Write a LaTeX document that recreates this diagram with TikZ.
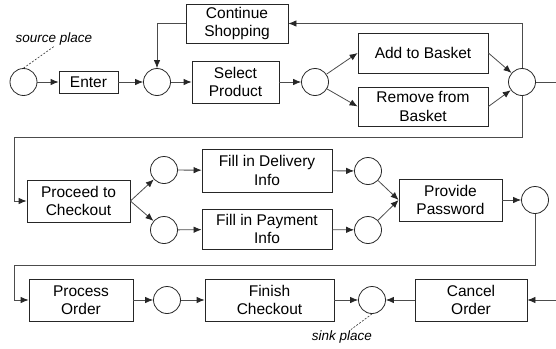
\documentclass[tikz,border=0pt]{standalone}
\usepackage{fontspec}
\setmainfont{Liberation Sans}
\usetikzlibrary{arrows.meta}

\tikzset{
  trans/.style 2 args={draw=black!85, line width=0.8pt, align=center, inner sep=0pt,
    minimum width=#1pt, minimum height=#2pt, font=\fontsize{15.5}{18.5}\selectfont},
  place/.style={draw=black!85, line width=0.8pt, circle, minimum size=27pt, inner sep=0pt},
  arc/.style={draw=black!70, line width=0.8pt,
    -{Latex[length=8pt,width=6.5pt,color=black!85,fill=black!85]}},
  wire/.style={draw=black!70, line width=0.8pt},
  note/.style={font=\fontsize{13.5}{16}\selectfont\itshape, inner sep=1pt},
  pointer/.style={draw=black!80, line width=0.6pt, dash pattern=on 2pt off 1.5pt},
}

\begin{document}
\begin{tikzpicture}[x=1pt, y=-1pt]
    \useasboundingbox (0,0) rectangle (556,348);

    % Baris 1: belanja
    \node[place] (src) at (23.5,82) {};
    \node[trans={59}{22}] (enter) at (88.5,82) {Enter};
    \node[place] (p1) at (157,82) {};
    \node[trans={102}{39}] (cont) at (237,23.5) {Continue\\Shopping};
    \node[trans={87}{42}] (sel) at (235.5,82) {Select\\Product};
    \node[place] (p2) at (315,82) {};
    \node[trans={130}{40}] (add) at (423,53) {Add to Basket};
    \node[trans={130}{39}] (rem) at (423,106.5) {Remove from\\Basket};
    \node[place] (p3) at (522,82) {};

    % Baris 2: checkout
    \node[trans={103}{42}] (proc) at (78.5,201) {Proceed to\\Checkout};
    \node[place] (q1) at (164,170) {};
    \node[place] (q2) at (164,230) {};
    \node[trans={130}{43}] (deliv) at (267,170.5) {Fill in Delivery\\Info};
    \node[trans={130}{40}] (pay) at (267,229) {Fill in Payment\\Info};
    \node[place] (q3) at (368,171) {};
    \node[place] (q4) at (368,230) {};
    \node[trans={103}{42}] (pwd) at (450.5,200) {Provide\\Password};
    \node[place] (q5) at (535,200) {};

    % Baris 3: penyelesaian
    \node[trans={104}{42}] (procord) at (81,300) {Process\\Order};
    \node[place] (q6) at (167,300) {};
    \node[trans={129}{42}] (fin) at (269.5,300) {Finish\\Checkout};
    \node[place] (sink) at (372,300) {};
    \node[trans={112}{42}] (cancel) at (471,300) {Cancel\\Order};

    % Titik belok dan ujung bebas
    \coordinate (turnA) at (14,137);
    \coordinate (turnB) at (14,265);
    \coordinate (outA) at (556,82);
    \coordinate (inB) at (556,300);

    % Busur baris 1
    \draw[arc] (src) -- (enter);
    \draw[arc] (enter) -- (p1);
    \draw[arc] (p1) -- (sel);
    \draw[arc] (sel) -- (p2);
    \draw[arc] (p2) -- (add.west);
    \draw[arc] (p2) -- (rem.west);
    \draw[arc] (add.east) -- (p3);
    \draw[arc] (rem.east) -- (p3);
    \draw[arc] (p3.north) |- (cont.east);
    \draw[arc] (cont.west) -| (p1.north);
    \draw[wire] (p3.east) -- (outA);

    % Busur baris 2
    \draw[arc] (p3.south) |- (turnA) |- (proc.west);
    \draw[arc] (proc.east) -- (q1);
    \draw[arc] (proc.east) -- (q2);
    \draw[arc] (q1) -- (deliv);
    \draw[arc] (q2) -- (pay);
    \draw[arc] (deliv) -- (q3);
    \draw[arc] (pay) -- (q4);
    \draw[arc] (q3) -- (pwd.west);
    \draw[arc] (q4) -- (pwd.west);
    \draw[arc] (pwd) -- (q5);

    % Busur baris 3
    \draw[arc] (q5.south) |- (turnB) |- (procord.west);
    \draw[arc] (procord) -- (q6);
    \draw[arc] (q6) -- (fin);
    \draw[arc] (fin) -- (sink);
    \draw[arc] (cancel) -- (sink);
    \draw[arc] (inB) -- (cancel);

    % Keterangan tempat awal dan akhir
    \node[note] (srclbl) at (54,39) {source place};
    \draw[pointer] (src.north) -- (srclbl.south);
    \node[note] (sinklbl) at (342,337) {sink place};
    \draw[pointer] (sink.south) -- ([xshift=9pt]sinklbl.north);
\end{tikzpicture}
\end{document}
